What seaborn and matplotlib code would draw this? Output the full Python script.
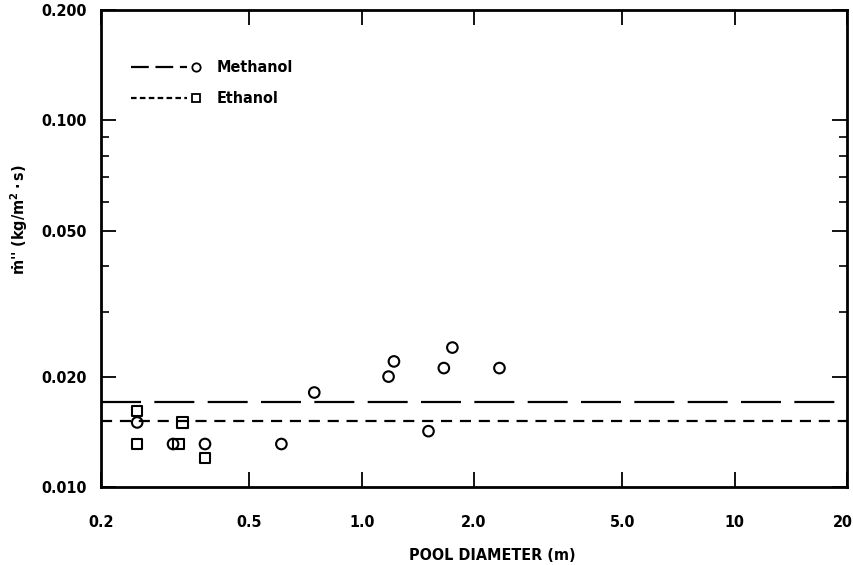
import numpy as np
import pandas as pd
import matplotlib
matplotlib.use("Agg")
import matplotlib.pyplot as plt
import matplotlib.transforms as mtransforms
import seaborn as sns

# ---- data ----
methanol_d = [0.25, 0.312, 0.38, 0.609, 0.746, 1.18, 1.22, 1.51, 1.66, 1.75, 2.34]
methanol_m = [0.0150, 0.0131, 0.0131, 0.0131, 0.0181, 0.0200, 0.0220, 0.0142, 0.0211, 0.0240, 0.0211]
ethanol_d = [0.25, 0.25, 0.323, 0.331, 0.38]
ethanol_m = [0.0161, 0.0131, 0.0131, 0.0150, 0.0120]
methanol_avg = 0.0170
ethanol_avg = 0.0151

x_ticks = [0.2, 0.5, 1.0, 2.0, 5.0, 10, 20]
x_ticklabels = ["0.2", "0.5", "1.0", "2.0", "5.0", "10", "20"]
y_ticks = [0.010, 0.020, 0.050, 0.100, 0.200]
y_ticklabels = ["0.010", "0.020", "0.050", "0.100", "0.200"]
y_minor = [0.03, 0.04, 0.06, 0.07, 0.08, 0.09]

df = pd.DataFrame({
    "d": methanol_d + ethanol_d,
    "m": methanol_m + ethanol_m,
    "fuel": ["Methanol"] * len(methanol_d) + ["Ethanol"] * len(ethanol_d),
})

sns.set_style("ticks")
plt.rcParams["font.family"] = ["DejaVu Sans"]
plt.rcParams["font.stretch"] = "condensed"
plt.rcParams["font.weight"] = "bold"
for k in ["text.color", "axes.labelcolor", "xtick.color", "ytick.color"]:
    plt.rcParams[k] = "black"

fig = plt.figure(figsize=(8.54, 5.65), dpi=100)
ax = fig.add_axes([0.1183, 0.138, 0.8735, 0.8447])

ax.set_xscale("log")
ax.set_yscale("log")

sns.scatterplot(data=df, x="d", y="m", style="fuel",
                markers={"Methanol": "o", "Ethanol": "s"},
                s=58, facecolor="none", edgecolor="black", linewidth=1.5,
                legend=False, ax=ax)

ax.axhline(methanol_avg, color="black", lw=1.6, dashes=(18, 6))
ax.axhline(ethanol_avg, color="black", lw=1.6, dashes=(5, 3.5))

ax.set_xlim(0.2, 20)
ax.set_ylim(0.010, 0.200)

ax.set_xticks(x_ticks)
ax.set_xticklabels(x_ticklabels)
ax.xaxis.set_minor_locator(matplotlib.ticker.NullLocator())
ax.set_yticks(y_ticks)
ax.set_yticklabels(y_ticklabels)
ax.set_yticks(y_minor, minor=True)
ax.yaxis.set_minor_formatter(matplotlib.ticker.NullFormatter())

ax.tick_params(which="major", direction="in", length=11, width=1.3,
               top=True, right=True, labelsize=11.5)
ax.tick_params(which="minor", direction="in", length=6, width=1.2,
               top=True, right=True)
ax.tick_params(axis="x", which="major", pad=20)
ax.tick_params(axis="y", which="major", pad=10)

# keep the last x tick label inside the figure
last = ax.get_xticklabels()[-1]
last.set_transform(last.get_transform() +
                   mtransforms.ScaledTranslation(-4 / 100, 0, fig.dpi_scale_trans))

for sp in ax.spines.values():
    sp.set_linewidth(2)
    sp.set_color("black")

ax.set_xlabel("POOL DIAMETER (m)", fontsize=11.5, fontweight="bold")
ax.xaxis.set_label_coords(0.525, -0.128)
ax.set_ylabel("ṁ'' (kg/m$^2\\cdot$s)", fontsize=11.5, fontweight="bold")
ax.yaxis.set_label_coords(-0.095, 0.56)

# legend drawn in axes coordinates (marker at the right end of the line)
tr = ax.transAxes
ax.plot([0.04, 0.115], [0.88, 0.88], transform=tr, color="black", lw=1.6,
        dashes=(8, 3))
ax.plot([0.127], [0.88], transform=tr, marker="o", ms=6, mfc="none",
        mec="black", mew=1.3)
ax.text(0.155, 0.88, "Methanol", transform=tr, va="center", fontsize=11.5,
        fontweight="bold")
ax.plot([0.04, 0.115], [0.815, 0.815], transform=tr, color="black", lw=1.6,
        dashes=(2.5, 1.5))
ax.plot([0.127], [0.815], transform=tr, marker="s", ms=5.5, mfc="none",
        mec="black", mew=1.3)
ax.text(0.155, 0.815, "Ethanol", transform=tr, va="center", fontsize=11.5,
        fontweight="bold")

fig.savefig("out.png", dpi=100)
